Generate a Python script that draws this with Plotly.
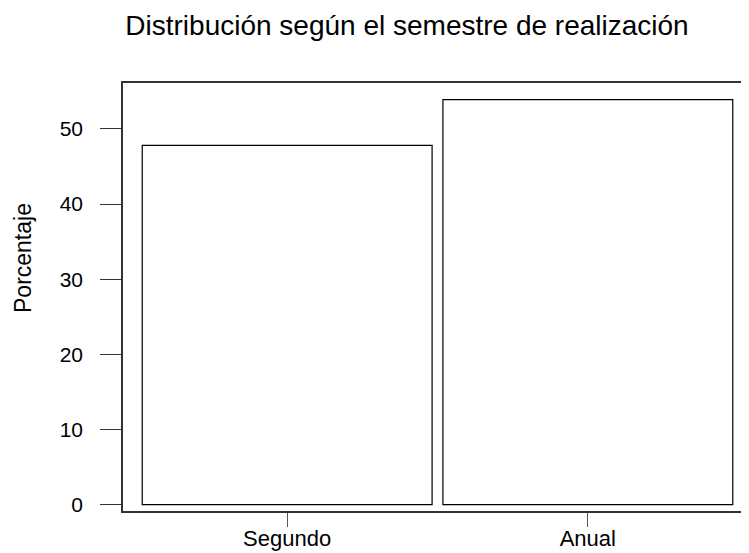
import plotly.graph_objects as go

categories = ["Segundo", "Anual"]
values = [47.8, 53.9]
y_ticks = [0, 10, 20, 30, 40, 50]

FONT = "Liberation Sans, Arial, sans-serif"

# the page body adds an 8px offset, so the figure is 8px smaller and shifted
W, H = 741, 545
L, R, T, B = 115, 0, 75, 42
PW = W - L - R
PH = H - T - B

fig = go.Figure()
fig.add_trace(go.Bar(
    x=categories,
    y=values,
    width=[0.964, 0.964],
    marker=dict(color="white", line=dict(color="black", width=1.2)),
    showlegend=False,
    hoverinfo="x+y",
))

fig.update_layout(
    width=W, height=H,
    margin=dict(l=L, r=R, t=T, b=B),
    paper_bgcolor="white",
    plot_bgcolor="white",
    font=dict(family=FONT, size=22, color="black"),
    title=dict(
        text="Distribución según el semestre de realización",
        font=dict(family=FONT, size=28, color="black"),
        x=399 / W, xanchor="center", xref="container",
        y=1 - 17 / H, yanchor="middle", yref="container",
    ),
    bargap=0.036,
)

fig.update_xaxes(
    type="category",
    range=[-0.546, 1.536],
    showline=True, linecolor="#333333", linewidth=1.5, mirror=True,
    ticks="outside", ticklen=14, tickcolor="#555555", tickwidth=1,
    showgrid=False, zeroline=False,
    tickfont=dict(family=FONT, size=22, color="black"),
    ticklabelstandoff=-7,
    automargin=False,
)
fig.update_yaxes(
    range=[-0.85, 56.1],
    tickvals=y_ticks,
    showline=True, linecolor="#333333", linewidth=1.5, mirror=False,
    ticks="outside", ticklen=21, tickcolor="#333333", tickwidth=1,
    showgrid=False, zeroline=False,
    tickfont=dict(family=FONT, size=21, color="black"),
    ticklabelstandoff=13,
    automargin=False,
)

fig.add_annotation(
    text="Porcentaje",
    textangle=-90,
    xref="paper", yref="paper",
    x=(15 - L) / PW, y=(T + PH - 250) / PH,
    xanchor="center", yanchor="middle",
    showarrow=False,
    font=dict(family=FONT, size=23, color="black"),
)

fig.write_html("out.html")
